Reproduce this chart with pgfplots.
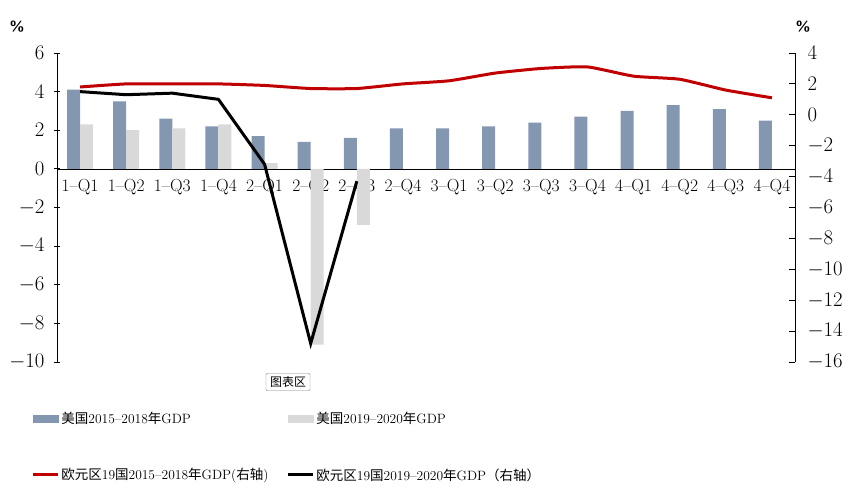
\documentclass[border=0pt]{standalone}
\usepackage{fontspec}
\usepackage{pgfplots}
\pgfplotsset{compat=1.18}
\newfontfamily\cjk{Noto Sans CJK SC}
\definecolor{usblue}{RGB}{132,151,176}
\definecolor{usgray}{RGB}{217,217,217}
\definecolor{eured}{RGB}{192,0,0}
\begin{document}
\begin{tikzpicture}
\useasboundingbox (-57pt,-130pt) rectangle (796pt,362pt);
\begin{axis}[
  scale only axis, width=738pt, height=309pt,
  xmin=-0.5, xmax=15.5, ymin=-10, ymax=6,
  ytick={-10,-8,...,6},
  axis y line=left, axis x line=middle,
  axis line style={-, line width=0.8pt},
  every outer y axis line/.style={-},
  every inner x axis line/.style={-},
  xtick={0,...,15},
  xticklabels={1--Q1,1--Q2,1--Q3,1--Q4,2--Q1,2--Q2,2--Q3,2--Q4,3--Q1,3--Q2,3--Q3,3--Q4,4--Q1,4--Q2,4--Q3,4--Q4},
  x tick style={draw=none},
  y tick style={black, line width=0.8pt},
  major tick length=6pt,
  yticklabel style={font=\fontsize{20}{22}\selectfont, xshift=-6pt},
  xticklabel style={font=\fontsize{17.5}{20}\selectfont, yshift=-1pt},
  ybar=0pt, bar width=13pt,
]
\addplot[fill=usblue, draw=none] coordinates {
(0,4.1) (1,3.5) (2,2.6) (3,2.2) (4,1.7) (5,1.4) (6,1.6) (7,2.1)
(8,2.1) (9,2.2) (10,2.4) (11,2.7) (12,3.0) (13,3.3) (14,3.1) (15,2.5)};
\addplot[fill=usgray, draw=none] coordinates {
(0,2.3) (1,2.0) (2,2.1) (3,2.3) (4,0.3) (5,-9.1) (6,-2.9)};
\end{axis}
\begin{axis}[
  scale only axis, width=738pt, height=309pt,
  xmin=-0.5, xmax=15.5, ymin=-16, ymax=4,
  ytick={-16,-14,...,4},
  axis y line*=right, axis x line=none,
  axis line style={-, line width=0.8pt},
  y tick style={black, line width=0.8pt},
  major tick length=6pt,
  yticklabel style={font=\fontsize{20}{22}\selectfont, xshift=9pt},
  clip=false,
  legend columns=2,
  legend cell align=left,
  legend style={draw=none, fill=none, at={(-0.039,-0.150)}, anchor=north west,
    font=\fontsize{13.5}{15}\selectfont, row sep=39pt,
    /tikz/every odd column/.append style={column sep=0pt},
    /tikz/every even column/.append style={column sep=16pt}},
]
\addlegendimage{legend image code/.code={\fill[usblue] (0pt,-3.5pt) rectangle (25pt,3.5pt);}}
\addlegendentry{{\cjk 美国}2015--2018{\cjk 年}GDP}
\addlegendimage{legend image code/.code={\fill[usgray] (0pt,-3.5pt) rectangle (25pt,3.5pt);}}
\addlegendentry{{\cjk 美国}2019--2020{\cjk 年}GDP}
\addplot[eured, line width=3pt, smooth, tension=0.3,
  legend image code/.code={\draw[eured, line width=3pt] (0pt,0pt) -- (25pt,0pt);}] coordinates {
(0,1.8) (1,2.0) (2,2.0) (3,2.0) (4,1.9) (5,1.7) (6,1.7) (7,2.0)
(8,2.2) (9,2.7) (10,3.0) (11,3.1) (12,2.5) (13,2.3) (14,1.6) (15,1.1)};
\addlegendentry{{\cjk 欧元区}19{\cjk 国}2015--2018{\cjk 年}GDP({\cjk 右轴})}
\addplot[black, line width=3pt,
  legend image code/.code={\draw[black, line width=3pt] (0pt,0pt) -- (25pt,0pt);}] coordinates {
(0,1.5) (1,1.3) (2,1.4) (3,1.0) (4,-3.2) (5,-14.8) (6,-4.3)};
\addlegendentry{{\cjk 欧元区}19{\cjk 国}2019--2020{\cjk 年}GDP{\cjk （右轴）}}
\node[font=\sffamily\bfseries\fontsize{14}{16}\selectfont] at ([shift={(-40pt,26pt)}]rel axis cs:0,1) {\%};
\node[font=\sffamily\bfseries\fontsize{14}{16}\selectfont] at ([shift={(8pt,26pt)}]rel axis cs:1,1) {\%};
\node[draw=gray, fill=white, rounded corners=1pt, inner xsep=4pt, inner ysep=3pt, font=\cjk\fontsize{12}{14}\selectfont] at ([shift={(231pt,-20pt)}]rel axis cs:0,0) {图表区};
\end{axis}
\end{tikzpicture}
\end{document}
